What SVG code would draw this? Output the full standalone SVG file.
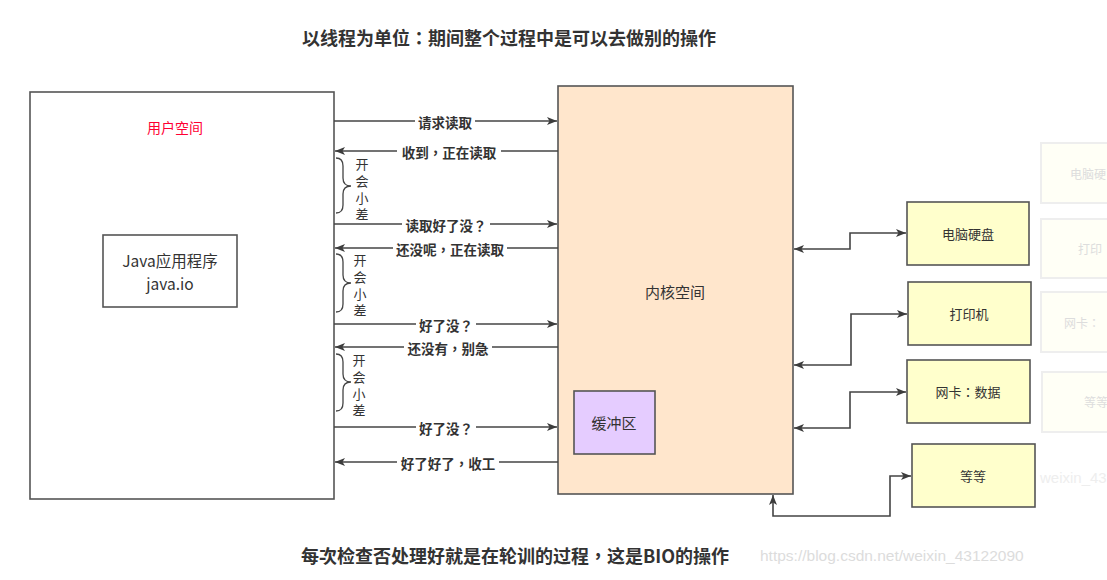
<svg xmlns="http://www.w3.org/2000/svg" width="1107" height="580" viewBox="0 0 1107 580">
<defs>
<marker id="ah" markerWidth="10" markerHeight="8" refX="10" refY="4" orient="auto-start-reverse" markerUnits="userSpaceOnUse">
<path d="M0,0 L10,4 L0,8 L2.5,4 Z" fill="#3c3c3c"/>
</marker>
<style>
.box{stroke:#555;stroke-width:1.6}
.t{font-family:"Noto Sans CJK TC","Noto Sans CJK SC","Liberation Sans",sans-serif;fill:#333;text-anchor:middle;dominant-baseline:central}
.lb{font-size:13.5px;font-weight:bold}
.ln{stroke:#444;stroke-width:1.6;fill:none}
.br{stroke:#444;stroke-width:1.3;fill:none}
.v{font-size:13px;font-family:"Noto Sans CJK SC","Liberation Sans",sans-serif;fill:#333;writing-mode:vertical-rl;text-orientation:upright;letter-spacing:3.6px}
.ghost{fill:#fffff6;stroke:#eeeeee;stroke-width:2}
.gt{font-family:"Noto Sans CJK TC","Noto Sans CJK SC","Liberation Sans",sans-serif;fill:#dddddd;font-size:12px;dominant-baseline:central}
</style>
</defs>
<rect width="1107" height="580" fill="#ffffff"/>

<g id="ghosts">
<rect class="ghost" x="1041" y="143" width="80" height="60"/>
<text class="gt" x="1070" y="173">电脑硬</text>
<rect class="ghost" x="1041" y="219" width="80" height="59"/>
<text class="gt" x="1078" y="248">打印</text>
<rect class="ghost" x="1041" y="292" width="80" height="60"/>
<text class="gt" x="1064" y="322">网卡：</text>
<rect class="ghost" x="1042" y="372" width="80" height="60"/>
<text class="gt" x="1084" y="401">等等</text>
<text x="1040" y="477" font-size="15" font-family="Liberation Sans, sans-serif" fill="#eeeeee" dominant-baseline="central">weixin_43</text>
</g>

<text class="t" x="509" y="37" font-size="18" font-weight="bold">以线程为单位：期间整个过程中是可以去做别的操作</text>
<text class="t" x="515" y="555" font-size="18" font-weight="bold">每次检查否处理好就是在轮训的过程，这是BIO的操作</text>
<text x="760" y="555" font-family="Liberation Sans, Arial, sans-serif" font-size="15.5" fill="#dcdcdc" dominant-baseline="central">https://blog.csdn.net/weixin_43122090</text>

<g id="user-space">
<rect class="box" x="30" y="92" width="304" height="407" fill="#ffffff"/>
<text class="t" x="175" y="127" font-size="14" style="fill:#ff0033">用户空间</text>
</g>
<g id="java-app">
<rect class="box" x="103" y="235" width="134" height="72" fill="#ffffff"/>
<text class="t" font-size="15.5"><tspan x="170" y="259.5">Java应用程序</tspan><tspan x="170" y="283">java.io</tspan></text>
</g>
<g id="kernel-space">
<rect class="box" x="558" y="86" width="235" height="408" fill="#ffe6cc"/>
<text class="t" x="675" y="291" font-size="15">内核空间</text>
</g>
<g id="buffer">
<rect class="box" x="574" y="391" width="81" height="63" fill="#e5ccff"/>
<text class="t" x="614" y="422" font-size="15">缓冲区</text>
</g>
<g id="disk">
<rect class="box" x="907" y="202" width="122" height="63" fill="#ffffcc"/>
<text class="t" x="968" y="233" font-size="13">电脑硬盘</text>
</g>
<g id="printer">
<rect class="box" x="908" y="282" width="123" height="63" fill="#ffffcc"/>
<text class="t" x="969" y="313" font-size="13">打印机</text>
</g>
<g id="nic">
<rect class="box" x="907" y="360" width="123" height="63" fill="#ffffcc"/>
<text class="t" x="968" y="391" font-size="13">网卡：数据</text>
</g>
<g id="etc">
<rect class="box" x="912" y="444" width="123" height="63" fill="#ffffcc"/>
<text class="t" x="973" y="475" font-size="13">等等</text>
</g>

<g id="connectors">
<line class="ln" x1="334" y1="121" x2="557" y2="121" marker-end="url(#ah)"/>
<line class="ln" x1="558" y1="151" x2="335" y2="151" marker-end="url(#ah)"/>
<line class="ln" x1="334" y1="224" x2="557" y2="224" marker-end="url(#ah)"/>
<line class="ln" x1="558" y1="248" x2="335" y2="248" marker-end="url(#ah)"/>
<line class="ln" x1="334" y1="324" x2="557" y2="324" marker-end="url(#ah)"/>
<line class="ln" x1="558" y1="347" x2="335" y2="347" marker-end="url(#ah)"/>
<line class="ln" x1="334" y1="427" x2="557" y2="427" marker-end="url(#ah)"/>
<line class="ln" x1="558" y1="462" x2="335" y2="462" marker-end="url(#ah)"/>

<polyline class="ln" points="794,249 850,249 850,233 906,233" marker-start="url(#ah)" marker-end="url(#ah)"/>
<polyline class="ln" points="794,365 851,365 851,314 907,314" marker-start="url(#ah)" marker-end="url(#ah)"/>
<polyline class="ln" points="794,428 850,428 850,392 906,392" marker-start="url(#ah)" marker-end="url(#ah)"/>
<polyline class="ln" points="773,495 773,516 890,516 890,476 911,476" marker-start="url(#ah)" marker-end="url(#ah)"/>

<g fill="#ffffff">
<rect x="415" y="113" width="60" height="17"/>
<rect x="397" y="143" width="104" height="17"/>
<rect x="402" y="216" width="88" height="17"/>
<rect x="393" y="240" width="114" height="17"/>
<rect x="416" y="316" width="60" height="17"/>
<rect x="404" y="339" width="88" height="17"/>
<rect x="416" y="419" width="60" height="17"/>
<rect x="397" y="454" width="102" height="17"/>
</g>
<text class="t lb" x="445" y="122">请求读取</text>
<text class="t lb" x="449" y="152">收到，正在读取</text>
<text class="t lb" x="446" y="225">读取好了没？</text>
<text class="t lb" x="450" y="249">还没呢，正在读取</text>
<text class="t lb" x="446" y="325">好了没？</text>
<text class="t lb" x="448" y="348">还没有，别急</text>
<text class="t lb" x="446" y="428">好了没？</text>
<text class="t lb" x="448" y="463">好了好了，收工</text>

<path class="br" d="M336,158 Q343,158 343,166 L343,178 Q343,186 351,186 Q343,186 343,194 L343,205 Q343,213 336,213"/>
<path class="br" d="M336,254 Q343,254 343,262 L343,275 Q343,283 351,283 Q343,283 343,291 L343,304 Q343,312 336,312"/>
<path class="br" d="M336,354 Q343,354 343,362 L343,374 Q343,382 351,382 Q343,382 343,390 L343,403 Q343,411 336,411"/>
</g>

<g id="nap-labels">
<text class="v" x="362" y="158">开会小差</text>
<text class="v" x="360" y="254">开会小差</text>
<text class="v" x="359" y="354">开会小差</text>
</g>
</svg>
